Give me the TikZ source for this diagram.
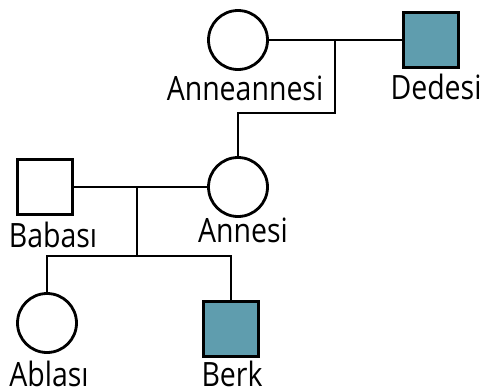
\documentclass[tikz,border=0pt]{standalone}
\usepackage{fontspec}
\setmainfont{Open Sans}
\definecolor{affected}{RGB}{95,157,174}
\newcommand{\lbltext}[1]{\scalebox{0.85}[1]{#1}}
\begin{document}
\begin{tikzpicture}[x=1pt,y=-1pt,
  line width=2.8pt,
  female/.style={circle,draw,minimum size=59pt,inner sep=0pt,fill=white},
  male/.style={rectangle,draw,minimum size=55pt,inner sep=0pt,fill=white},
  sick/.style={fill=affected},
  personname/.style={anchor=base,inner sep=0pt,font=\fontsize{33.5}{36}\selectfont}]
\useasboundingbox (0,0) rectangle (485,391);

% grandparents
\node[female] (anneanne) at (238,40) {};
\node[male,sick] (dede) at (431,40) {};
\coordinate (gpmid) at (335,40);
\coordinate (gpdrop) at (335,113);
\coordinate (gpturn) at (238,113);

% parents
\node[male] (baba) at (45,187) {};
\node[female] (anne) at (238,187) {};
\coordinate (pmid) at (137,187);
\coordinate (sibbar) at (137,256);
\coordinate (sibleft) at (47,256);
\coordinate (sibright) at (231,256);

% children
\node[female] (abla) at (47,323) {};
\node[male,sick] (berk) at (231,329) {};

% connectors
\draw (anneanne.east) -- (dede.west);
\draw (gpmid) -- (gpdrop) -- (gpturn) -- (anne.north);
\draw (baba.east) -- (anne.west);
\draw (pmid) -- (sibbar);
\draw (abla.north) -- (sibleft) -- (sibright) -- (berk.north);

% names
\node[personname] (tanneanne) at (245,100) {\lbltext{Anneannesi}};
\node[personname] (tdede) at (436,99) {\lbltext{Dedesi}};
\node[personname] (tbaba) at (53,247) {\lbltext{Babası}};
\node[personname] (tanne) at (243,242) {\lbltext{Annesi}};
\node[personname] (tabla) at (49,386) {\lbltext{Ablası}};
\node[personname] (tberk) at (232,386) {\lbltext{Berk}};
\end{tikzpicture}
\end{document}
